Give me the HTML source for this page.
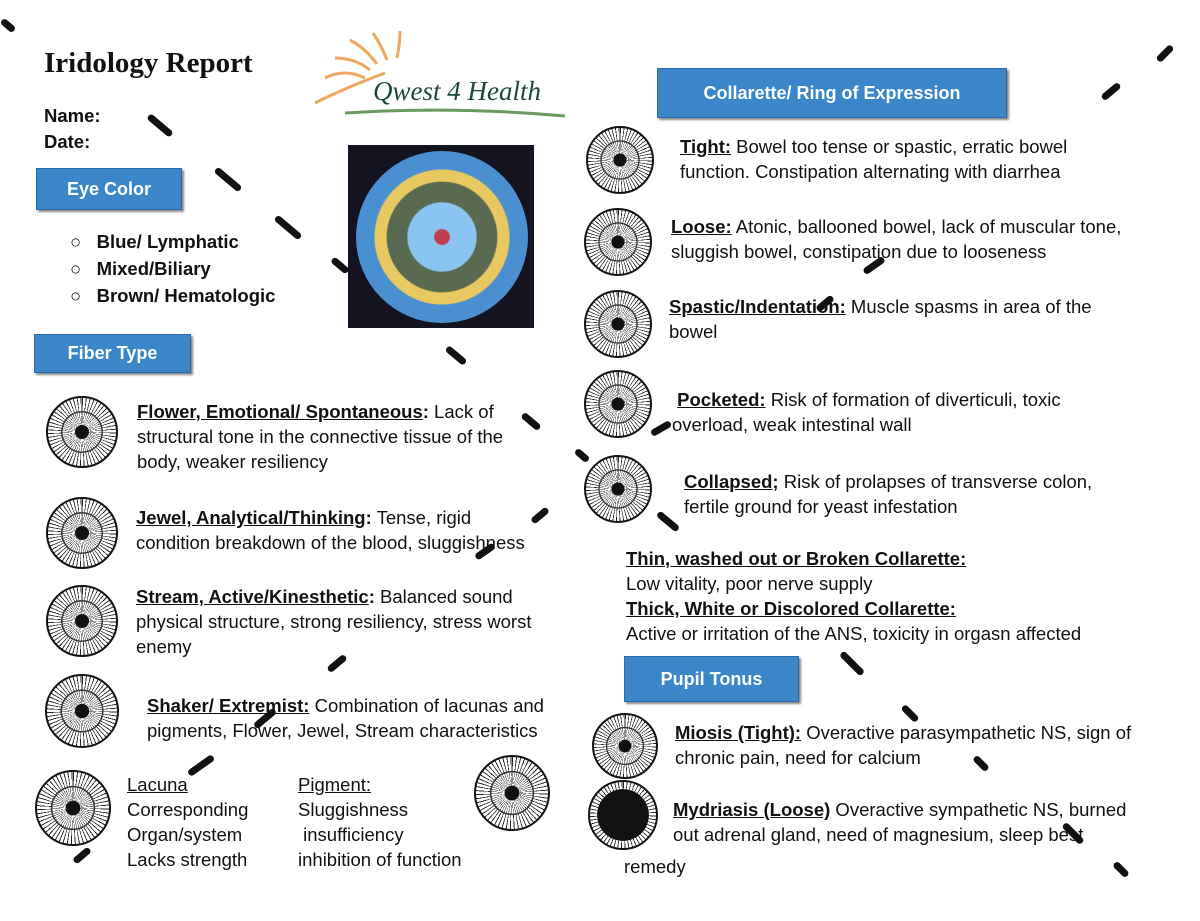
<!DOCTYPE html>
<html><head><meta charset="utf-8"><style>
body{margin:0;width:1200px;height:921px;background:#fff;position:relative;overflow:hidden;font-family:"Liberation Sans",sans-serif;color:#111}
.a{position:absolute;white-space:nowrap}
.t{font-size:18.5px;line-height:25px}
.box{position:absolute;background:#3b86c9;color:#fff;font-size:18px;font-weight:bold;display:flex;align-items:center;justify-content:center;box-shadow:2px 2px 2px #888;border:1px solid #2a6aa8}
.iris{position:absolute;border-radius:50%;border:2px solid #111;background:
radial-gradient(circle,#111 0 14%,transparent 15% 40%,#333 41% 43%,transparent 44%),
repeating-conic-gradient(#222 0 1.6deg,#fff 1.6deg 6.5deg)}
.mk{position:absolute;height:7px;background:#111;border-radius:4px}
</style></head><body>
<div class="a" style="left:44px;top:47px;font-family:'Liberation Serif',serif;font-weight:bold;font-size:29px">Iridology Report</div>
<div class="a t" style="left:44px;top:103px;font-weight:bold">Name:</div>
<div class="a t" style="left:44px;top:129px;font-weight:bold">Date:</div>
<svg class="a" style="left:305px;top:28px" width="260" height="95">
<g stroke="#f0a860" stroke-width="3" fill="none"><path d="M20 50 Q40 40 60 50"/><path d="M30 30 Q50 30 65 42"/><path d="M45 12 Q60 20 72 36"/><path d="M68 5 Q75 15 82 32"/><path d="M95 3 Q95 15 92 30"/><path d="M10 75 Q40 60 80 45"/></g>
<text x="68" y="72" font-family="Liberation Serif" font-style="italic" font-size="27" fill="#1d4a35">Qwest 4 Health</text>
<path d="M40 85 Q150 78 260 88" stroke="#6a9a60" stroke-width="3" fill="none"/></svg>
<div class="a" style="left:348px;top:145px;width:186px;height:183px;background:#141420"><div style="position:absolute;left:8px;top:6px;width:172px;height:172px;border-radius:50%;background:radial-gradient(circle,#c04050 0 6%,#8ac4f0 7% 28%,#5a6a50 29% 45%,#e8c860 46% 55%,#4a90d0 56% 80%,#3aa0d8 81% 100%)"></div></div>
<div class="box" style="left:36px;top:168px;width:144px;height:40px">Eye Color</div>
<div class="a t" style="left:70px;top:228px;font-weight:bold;line-height:27px">○&nbsp;&nbsp;&nbsp;Blue/ Lymphatic<br>○&nbsp;&nbsp;&nbsp;Mixed/Biliary<br>○&nbsp;&nbsp;&nbsp;Brown/ Hematologic</div>
<div class="box" style="left:34px;top:334px;width:155px;height:37px">Fiber Type</div>
<div class="iris" style="left:46px;top:396px;width:68px;height:68px"></div>
<div class="a t" style="left:137px;top:399px"><b><u>Flower, Emotional/ Spontaneous</u>:</b> Lack of<br>structural tone in the connective tissue of the<br>body, weaker resiliency</div>
<div class="iris" style="left:46px;top:497px;width:68px;height:68px"></div>
<div class="a t" style="left:136px;top:505px"><b><u>Jewel, Analytical/Thinking</u>:</b> Tense, rigid<br>condition breakdown of the blood, sluggishness</div>
<div class="iris" style="left:46px;top:585px;width:68px;height:68px"></div>
<div class="a t" style="left:136px;top:584px"><b><u>Stream, Active/Kinesthetic</u>:</b> Balanced sound<br>physical structure, strong resiliency, stress worst<br>enemy</div>
<div class="iris" style="left:45px;top:674px;width:70px;height:70px"></div>
<div class="a t" style="left:147px;top:693px"><b><u>Shaker/ Extremist:</u></b> Combination of lacunas and<br>pigments, Flower, Jewel, Stream characteristics</div>
<div class="iris" style="left:35px;top:770px;width:72px;height:72px"></div>
<div class="a t" style="left:127px;top:772px"><u>Lacuna</u><br>Corresponding<br>Organ/system<br>Lacks strength</div>
<div class="a t" style="left:298px;top:772px"><u>Pigment:</u><br>Sluggishness<br>&nbsp;insufficiency<br>inhibition of function</div>
<div class="iris" style="left:474px;top:755px;width:72px;height:72px"></div>
<div class="box" style="left:657px;top:68px;width:348px;height:48px">Collarette/ Ring of Expression</div>
<div class="iris" style="left:586px;top:126px;width:64px;height:64px"></div>
<div class="a t" style="left:680px;top:134px"><b><u>Tight:</u></b> Bowel too tense or spastic, erratic bowel<br>function. Constipation alternating with diarrhea</div>
<div class="iris" style="left:584px;top:208px;width:64px;height:64px"></div>
<div class="a t" style="left:671px;top:214px"><b><u>Loose:</u></b> Atonic, ballooned bowel, lack of muscular tone,<br>sluggish bowel, constipation due to looseness</div>
<div class="iris" style="left:584px;top:290px;width:64px;height:64px"></div>
<div class="a t" style="left:669px;top:294px"><b><u>Spastic/Indentation:</u></b> Muscle spasms in area of the<br>bowel</div>
<div class="iris" style="left:584px;top:370px;width:64px;height:64px"></div>
<div class="a t" style="left:672px;top:387px"><b>&nbsp;<u>Pocketed:</u></b> Risk of formation of diverticuli, toxic<br>overload, weak intestinal wall</div>
<div class="iris" style="left:584px;top:455px;width:64px;height:64px"></div>
<div class="a t" style="left:684px;top:469px"><b><u>Collapsed;</u></b> Risk of prolapses of transverse colon,<br>fertile ground for yeast infestation</div>
<div class="a t" style="left:626px;top:546px"><b><u>Thin, washed out or  Broken Collarette:</u></b><br>Low vitality, poor nerve supply<br><b><u>Thick, White or Discolored Collarette:</u></b><br>Active or irritation of the ANS, toxicity in orgasn affected</div>
<div class="box" style="left:624px;top:656px;width:173px;height:44px">Pupil Tonus</div>
<div class="iris" style="left:592px;top:713px;width:62px;height:62px"></div>
<div class="a t" style="left:675px;top:720px"><b><u>Miosis (Tight):</u></b> Overactive parasympathetic NS, sign of<br>chronic pain, need for calcium</div>
<div class="iris" style="left:588px;top:780px;width:66px;height:66px;background:radial-gradient(circle,#111 0 55%,transparent 56%),repeating-conic-gradient(#222 0 1.6deg,#fff 1.6deg 6.5deg)"></div>
<div class="a t" style="left:673px;top:797px"><b><u>Mydriasis (Loose)</u></b> Overactive sympathetic NS, burned<br>out adrenal gland, need of magnesium, sleep best</div>
<div class="a t" style="left:624px;top:854px">remedy</div>
<div class="mk" style="left:145px;top:122px;width:30px;transform:rotate(40deg)"></div>
<div class="mk" style="left:212px;top:176px;width:32px;transform:rotate(40deg)"></div>
<div class="mk" style="left:272px;top:224px;width:32px;transform:rotate(40deg)"></div>
<div class="mk" style="left:330px;top:262px;width:20px;transform:rotate(40deg)"></div>
<div class="mk" style="left:444px;top:352px;width:24px;transform:rotate(40deg)"></div>
<div class="mk" style="left:520px;top:418px;width:22px;transform:rotate(40deg)"></div>
<div class="mk" style="left:574px;top:452px;width:16px;transform:rotate(40deg)"></div>
<div class="mk" style="left:655px;top:518px;width:26px;transform:rotate(40deg)"></div>
<div class="mk" style="left:837px;top:660px;width:30px;transform:rotate(45deg)"></div>
<div class="mk" style="left:900px;top:710px;width:20px;transform:rotate(45deg)"></div>
<div class="mk" style="left:972px;top:760px;width:18px;transform:rotate(45deg)"></div>
<div class="mk" style="left:1060px;top:830px;width:26px;transform:rotate(45deg)"></div>
<div class="mk" style="left:1112px;top:866px;width:18px;transform:rotate(45deg)"></div>
<div class="mk" style="left:1155px;top:50px;width:20px;transform:rotate(-45deg)"></div>
<div class="mk" style="left:1100px;top:88px;width:22px;transform:rotate(-40deg)"></div>
<div class="mk" style="left:862px;top:262px;width:24px;transform:rotate(-35deg)"></div>
<div class="mk" style="left:815px;top:300px;width:20px;transform:rotate(-40deg)"></div>
<div class="mk" style="left:650px;top:425px;width:22px;transform:rotate(-30deg)"></div>
<div class="mk" style="left:530px;top:512px;width:20px;transform:rotate(-40deg)"></div>
<div class="mk" style="left:474px;top:548px;width:22px;transform:rotate(-35deg)"></div>
<div class="mk" style="left:326px;top:660px;width:22px;transform:rotate(-40deg)"></div>
<div class="mk" style="left:252px;top:715px;width:26px;transform:rotate(-40deg)"></div>
<div class="mk" style="left:186px;top:762px;width:30px;transform:rotate(-35deg)"></div>
<div class="mk" style="left:72px;top:852px;width:20px;transform:rotate(-40deg)"></div>
<div class="mk" style="left:0px;top:22px;width:16px;transform:rotate(40deg)"></div>
</body></html>
